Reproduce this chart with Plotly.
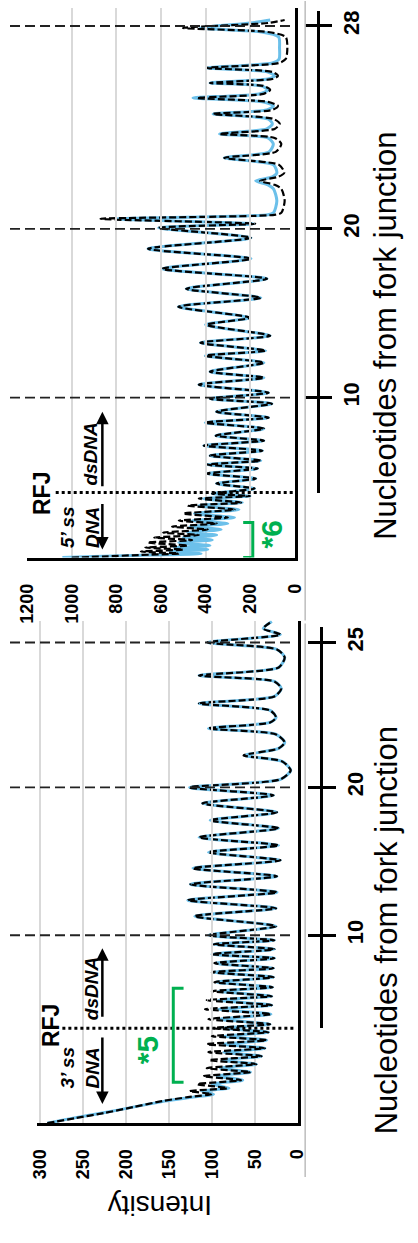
import plotly.graph_objects as go

# ------------------------------------------------------------------ data
# Bottom panel: 3' ss DNA substrate. Migration position (a.u.) vs intensity
b_pos = [0.0, 0.5, 1.0, 1.6, 2.2, 2.6, 2.9, 3.2, 3.5, 3.9, 4.3, 4.7, 5.1, 5.5, 5.9, 6.3, 6.7, 7.1, 7.5, 7.9,
         8.3, 8.7, 9.1, 9.5, 9.9, 10.4, 10.9, 11.4, 11.8, 12.3, 12.7, 13.2, 13.6, 14.1, 14.6, 15.1, 15.5,
         16.0, 16.5, 16.9, 17.4, 17.9, 18.3, 18.8, 19.7, 20.7, 21.5, 22.3, 23.1, 23.9, 24.7, 25.5, 26.3,
         27.1, 27.8, 28.6, 29.5, 30.3, 31.1, 32.0, 32.8, 33.6, 34.4, 35.3, 36.2, 36.8, 37.5, 38.1, 38.9,
         39.5, 40.1, 40.6, 41.3, 42.0, 42.7, 43.5, 44.2, 44.8, 45.6, 46.6, 47.4, 48.1, 48.9, 49.5, 50.2]
b_black = [292, 259, 226, 192, 158, 128, 100, 126, 82, 117, 66, 110, 55, 106, 48, 103, 42, 104, 38, 106,
           36, 100, 34, 98, 32, 104, 31, 108, 30, 106, 30, 100, 29, 97, 28, 100, 28,
           97, 27, 100, 27, 98, 27, 104, 25, 120, 25, 128, 24, 125, 24, 122, 20,
           104, 22, 115, 22, 102, 24, 111, 28, 126, 20, 8, 18, 63, 22, 15, 25,
           104, 32, 25, 32, 115, 27, 19, 27, 115, 22, 15, 24, 105, 20, 40, 30]
b_blue = [292, 262, 228, 192, 155, 122, 98, 112, 80, 100, 64, 94, 55, 90, 48, 88, 42, 86, 38, 86,
          36, 85, 34, 86, 32, 90, 31, 92, 30, 92, 30, 92, 29, 95, 28, 98, 28,
          96, 27, 100, 27, 98, 27, 104, 25, 120, 25, 128, 24, 125, 24, 122, 20,
          104, 22, 115, 22, 102, 24, 111, 28, 126, 20, 8, 18, 61, 22, 15, 25,
          104, 32, 25, 32, 115, 27, 19, 27, 115, 22, 15, 24, 105, 20, 40, 30]
b_nt_pos = [18.8, 33.6, 48.1]
b_nt_text = ["10", "20", "25"]
b_rfj = 9.5
b_scale_end = 49.6
b_int_ticks = [0, 50, 100, 150, 200, 250, 300]

# Top panel: 5' ss DNA substrate
t_pos = [0.0, 0.1, 0.25, 0.4, 0.6, 0.8, 1.0, 1.2, 1.5, 1.75, 2.0, 2.25, 2.5, 2.8, 3.1, 3.4, 3.7, 4.0,
         4.4, 4.8, 5.2, 5.5, 5.9, 6.15, 6.4, 6.9, 7.4, 7.9, 8.4, 8.9, 9.3, 9.7, 10.2, 10.7, 11.2, 11.7,
         12.2, 12.9, 13.5, 14.0, 14.6, 15.4, 15.9, 16.5, 17.3, 18.0, 18.6, 19.5, 20.2, 20.7, 21.5, 22.2,
         23.3, 24.0, 25.1, 26.0, 26.9, 27.9, 28.9, 29.9, 30.9, 32.0, 33.0, 33.4, 33.9, 34.3, 34.5, 35.7,
         36.9, 37.3, 37.7, 38.1, 38.5, 39.3, 40.0, 40.6, 41.4, 42.0, 42.4, 42.9, 43.4, 43.9, 44.4, 44.8,
         45.2, 45.6, 46.0, 46.4, 46.8, 47.2, 47.5, 47.9, 48.2, 48.6, 49.0, 49.5, 49.9, 51.0, 52.1, 52.6,
         53.0, 53.5, 53.8]
t_black = [1000, 860, 700, 520, 690, 500, 670, 480, 660, 460, 630, 430, 590, 390, 550, 350, 520, 300,
           500, 270, 480, 240, 430, 200, 370, 180, 351, 174, 394, 166, 394, 152, 380, 145, 408, 138,
           354, 138, 401, 117, 351, 102, 380, 117, 430, 138, 380, 138, 401, 130, 423, 110,
           394, 202, 522, 152, 487, 124, 594, 196, 658, 196, 610, 177, 871, 90, 60, 45,
           60, 90, 155, 75, 47, 70, 316, 85, 60, 90, 337, 90, 67, 95, 366, 100,
           75, 120, 437, 140, 110, 140, 380, 100, 75, 100, 394, 70, 40, 33, 40, 120,
           501, 120, 45]
t_blue = [1042, 900, 640, 420, 560, 390, 540, 380, 520, 370, 500, 350, 480, 330, 470, 300, 460, 270,
          450, 250, 430, 235, 410, 200, 370, 180, 351, 174, 394, 166, 394, 152, 380, 145, 408, 138,
          354, 138, 401, 117, 351, 102, 380, 117, 430, 138, 380, 138, 401, 130, 423, 110,
          400, 202, 522, 152, 487, 124, 594, 196, 658, 196, 610, 185, 800, 120, 95, 80,
          95, 120, 175, 100, 80, 95, 316, 115, 96, 120, 337, 125, 100, 120, 366, 125,
          95, 140, 456, 160, 120, 150, 380, 120, 90, 120, 394, 100, 70, 68, 72, 150,
          423, 200, 110]
t_nt_pos = [16.0, 32.9, 53.2]
t_nt_text = ["10", "20", "28"]
t_rfj = 6.5
t_scale_end = 54.7
t_int_ticks = [0, 200, 400, 600, 800, 1000, 1200]

# bracket marks (data units): (intensity of spine, intensity of tips, pos start, pos end)
b_bracket = (145, 133, 4.1, 13.5)
t_bracket = (188, 231, 0.0, 3.5)

# ------------------------------------------------------------------ geometry
W, H = 418, 1243
def px(x):
    return x / W
def py(y):
    return 1 - y / H

BLUE = "#6CC0EA"
GREEN = "#00B050"
GRID = "#d9d9d9"
FONT = "Arial"

b_dom = [py(1123), py(620)]
b_rng = [0, 50.3]
t_dom = [py(557), py(7)]
t_rng = [0, 55.0]

def frac(m, dom, rng):
    return dom[0] + (m - rng[0]) / (rng[1] - rng[0]) * (dom[1] - dom[0])

fig = go.Figure()

# traces
for xs, ys, xa, ya in [(b_blue, b_pos, "x", "y"), (t_blue, t_pos, "x2", "y2")]:
    fig.add_trace(go.Scatter(x=xs, y=ys, xaxis=xa, yaxis=ya, mode="lines",
                             line=dict(color=BLUE, width=3, shape="spline", smoothing=0.7),
                             showlegend=False, hoverinfo="skip"))
for xs, ys, xa, ya in [(b_black, b_pos, "x", "y"), (t_black, t_pos, "x2", "y2")]:
    fig.add_trace(go.Scatter(x=xs, y=ys, xaxis=xa, yaxis=ya, mode="lines",
                             line=dict(color="black", width=2.2, dash="7px,3px", shape="spline", smoothing=0.7),
                             showlegend=False, hoverinfo="skip"))
# dummy traces to activate nucleotide scale axes
for xa, ya in [("x", "y3"), ("x", "y4"), ("x2", "y5"), ("x2", "y6")]:
    fig.add_trace(go.Scatter(x=[None], y=[None], xaxis=xa, yaxis=ya, showlegend=False, hoverinfo="skip"))

tickfont = dict(family=FONT, size=18, color="black", weight="bold")
ntfont = dict(family=FONT, size=22, color="black", weight="bold")

common_x = dict(showgrid=True, gridcolor=GRID, gridwidth=2, showline=True, linecolor="black",
                linewidth=3, zeroline=False, tickangle=-90, tickfont=tickfont, ticks="",
                ticklabelstandoff=16, fixedrange=True)
common_y = dict(showgrid=False, showline=True, linecolor="black", linewidth=3, zeroline=False,
                showticklabels=False, ticks="", side="right", fixedrange=True)

def scale_axis(dom, rng, m0, m1, pos, vals, text, ticks, labels):
    return dict(domain=[frac(m0, dom, rng), frac(m1, dom, rng)], range=[m0, m1], anchor="free",
                position=pos, side="right", showline=labels, linecolor="black", linewidth=2.5,
                ticks=ticks, ticklen=13, tickwidth=2.5, tickcolor="black", tickvals=vals,
                ticktext=text, showticklabels=labels, tickangle=-90, tickfont=ntfont,
                showgrid=False, zeroline=False, fixedrange=True)

fig.update_layout(
    width=W, height=H, margin=dict(l=0, r=0, t=0, b=0),
    paper_bgcolor="white", plot_bgcolor="rgba(0,0,0,0)", showlegend=False,
    xaxis=dict(domain=[px(28), px(302)], range=[304.4, 0], anchor="y", tickvals=b_int_ticks, **common_x),
    yaxis=dict(domain=b_dom, range=b_rng, anchor="x", **common_y),
    xaxis2=dict(domain=[px(18), px(299)], range=[1200, 0], anchor="y2", tickvals=t_int_ticks, **common_x),
    yaxis2=dict(domain=t_dom, range=t_rng, anchor="x2", **common_y),
    yaxis3=scale_axis(b_dom, b_rng, b_rfj, b_scale_end, px(327), b_nt_pos, b_nt_text, "outside", True),
    yaxis4=scale_axis(b_dom, b_rng, b_rfj, b_scale_end, px(327), b_nt_pos, b_nt_text, "inside", False),
    yaxis5=scale_axis(t_dom, t_rng, t_rfj, t_scale_end, px(323), t_nt_pos, t_nt_text, "outside", True),
    yaxis6=scale_axis(t_dom, t_rng, t_rfj, t_scale_end, px(323), t_nt_pos, t_nt_text, "inside", False),
)

shapes = []
# nucleotide guide lines
for m in b_nt_pos:
    shapes.append(dict(type="line", xref="paper", yref="y", x0=0, x1=px(298), y0=m, y1=m,
                       line=dict(color="#222", width=1.8, dash="10px,5px")))
for m in t_nt_pos:
    shapes.append(dict(type="line", xref="paper", yref="y2", x0=0, x1=px(297), y0=m, y1=m,
                       line=dict(color="#222", width=1.8, dash="10px,5px")))
# RFJ dotted lines
shapes.append(dict(type="line", xref="paper", yref="y", x0=px(55), x1=px(300), y0=b_rfj, y1=b_rfj,
                   line=dict(color="black", width=3, dash="3px,3px")))
shapes.append(dict(type="line", xref="paper", yref="y2", x0=px(48), x1=px(298), y0=t_rfj, y1=t_rfj,
                   line=dict(color="black", width=3, dash="3px,3px")))
# green brackets
for (sp, tip, m0, m1), xr, yr in [(b_bracket, "x", "y"), (t_bracket, "x2", "y2")]:
    shapes.append(dict(type="path", xref=xr, yref=yr,
                       path=f"M {tip},{m0} L {sp},{m0} L {sp},{m1} L {tip},{m1}",
                       line=dict(color=GREEN, width=3)))
# light grey frame separators
shapes.append(dict(type="line", xref="paper", yref="paper", x0=px(310), x1=px(310), y0=py(0), y1=py(620),
                   line=dict(color="#bdbdbd", width=1.5)))
shapes.append(dict(type="line", xref="paper", yref="paper", x0=px(310), x1=px(310), y0=py(623), y1=py(1177),
                   line=dict(color="#bdbdbd", width=1.5)))
fig.update_layout(shapes=shapes)

ann = []
def txt(x, y, s, size, angle=-90, color="black", bold=False, italic=False):
    f = dict(family=FONT, size=size, color=color)
    if bold:
        f["weight"] = "bold"
    if italic:
        f["style"] = "italic"
    ann.append(dict(x=px(x), y=py(y), xref="paper", yref="paper", text=s, showarrow=False,
                    textangle=angle, font=f, xanchor="center", yanchor="middle"))

def arrow(x, yh, yt):
    ann.append(dict(x=px(x), y=py(yh), ax=0, ay=yt - yh, xref="paper", yref="paper",
                    axref="pixel", ayref="pixel", text="", showarrow=True, arrowhead=2,
                    arrowsize=1, arrowwidth=2.5, arrowcolor="black"))

# bottom panel texts
txt(43, 1025, "RFJ", 23, bold=True)
txt(74, 1067, "3’ ss<br>DNA", 19, bold=True, italic=True)
txt(85, 988, "dsDNA", 19, bold=True, italic=True)
txt(144, 1050, "*5", 30, color=GREEN, bold=True)
txt(157, 1206, "Intensity", 28, angle=180)
txt(395, 930, "Nucleotides from fork junction", 31)
arrow(97, 948, 1018)
arrow(97, 1104, 1036)
# top panel texts
txt(33, 493, "RFJ", 23, bold=True)
txt(73, 527, "5’ ss<br>DNA", 19, bold=True, italic=True)
txt(85, 453, "dsDNA", 19, bold=True, italic=True)
txt(275, 534, "*6", 30, color=GREEN, bold=True)
txt(395, 335, "Nucleotides from fork junction", 31)
arrow(97, 411, 487)
arrow(97, 549, 502)
fig.update_layout(annotations=ann)

fig.write_html("out.html")
